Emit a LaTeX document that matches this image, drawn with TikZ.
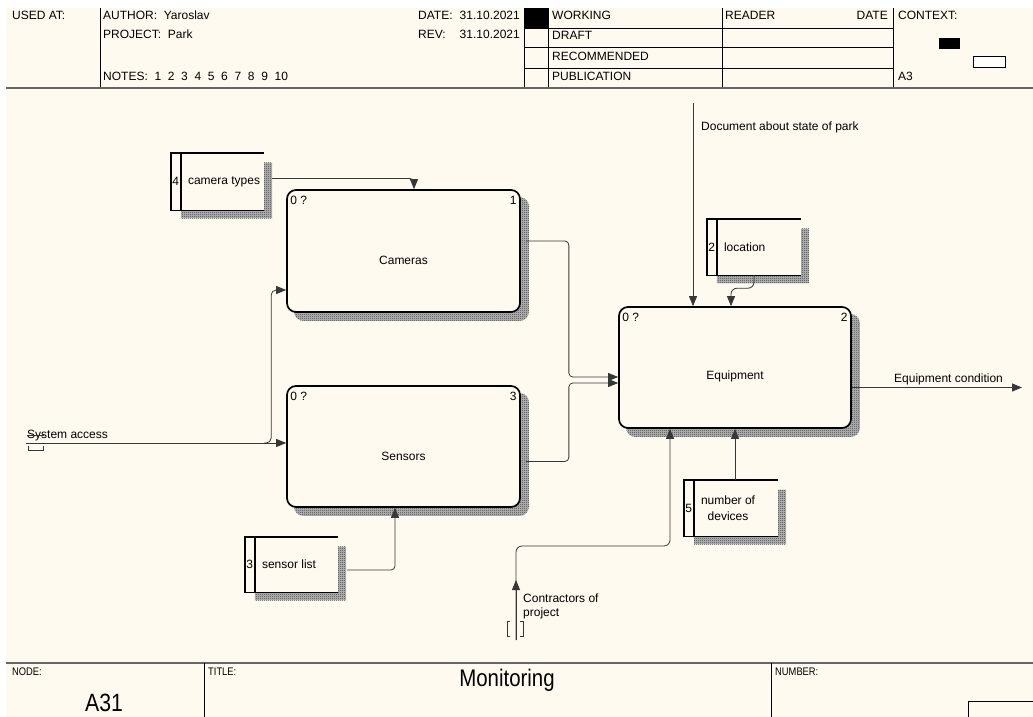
\documentclass[tikz,border=0pt]{standalone}
\usepackage{fontspec}
\setmainfont{Liberation Sans}
\newfontfamily\narrowfont[FakeStretch=0.85]{Liberation Sans}
\usetikzlibrary{arrows.meta,patterns,backgrounds}
\definecolor{paper}{RGB}{255,250,239}
\definecolor{wire}{RGB}{55,55,55}
% fine pixel checkerboard used for the drop shadows
\pgfdeclarepatternformonly{fine checker}{\pgfpointorigin}{\pgfpoint{2pt}{2pt}}{\pgfpoint{2pt}{2pt}}{%
  \pgfpathrectangle{\pgfpointorigin}{\pgfpoint{1pt}{1pt}}%
  \pgfpathrectangle{\pgfpoint{1pt}{1pt}}{\pgfpoint{1pt}{1pt}}%
  \pgfusepath{fill}}

% data store: name, centre x, centre y, width, height, number, text
\newcommand\datastore[7]{%
  \node[minimum width=#4pt, minimum height=#5pt, fill=paper] (#1) at (#2,#3) {};
  \begin{scope}[on background layer]
    \fill[shade] ([shift={(10,10)}]#1.north west) rectangle ([shift={(8,8)}]#1.south east);
  \end{scope}
  \draw[box] (#1.north east) -- (#1.north west) -- (#1.south west) -- (#1.south east);
  \draw[box] ([xshift=10pt]#1.north west) -- ([xshift=10pt]#1.south west);
  \node (#1-n) at ([xshift=5pt]#1.west) {#6};
  \node[anchor=west, align=center] (#1-t) at ([xshift=17pt]#1.west) {#7};
}
% activity box with its drop shadow and corner labels
\newcommand\activity[6]{% name, centre x, centre y, width, height, number
  \node[func, minimum width=#4pt, minimum height=#5pt] (#1) at (#2,#3) {};
  \begin{scope}[on background layer]
    \fill[shade, rounded corners=9pt] ([shift={(8,8)}]#1.north west) rectangle ([shift={(8,8)}]#1.south east);
  \end{scope}
  \node[txt] (#1-q) at ([shift={(4,15)}]#1.north west) {0 ?};
  \node[txtr] (#1-n) at ([shift={(-4,15)}]#1.north east) {#6};
}

\begin{document}
\begin{tikzpicture}[x=1pt, y=-1pt,
  every node/.style={font=\fontsize{12}{16}\selectfont, inner sep=0pt},
  txt/.style={anchor=base west},
  txtr/.style={anchor=base east},
  func/.style={draw=black, line width=1.7pt, rounded corners=9pt, fill=paper},
  shade/.style={preaction={fill=black!28}, pattern=fine checker, pattern color=black!75},
  box/.style={draw=black, line width=1.4pt},
  flow/.style={draw=wire, line width=0.8pt, rounded corners=4pt, -{Triangle[length=10pt,width=8pt]}},
  wireline/.style={draw=wire, line width=0.8pt},
  rule/.style={draw=black!60, line width=1.5pt},
  grid/.style={draw=black, line width=0.8pt},
  small/.style={font=\narrowfont\fontsize{11}{13}\selectfont}
]
\useasboundingbox (0,0) rectangle (1033,717);
\begin{scope}[on background layer]
  \fill[white] (0,0) rectangle (1033,717);
  \fill[paper] (6,8) rectangle (1033,717);
\end{scope}

% ---------- header ----------
\draw[grid] (100,8) -- (100,88);
\fill[black] (524,8) rectangle (548,28);
\draw[grid] (524,8) -- (524,88);
\draw[grid] (548,8) -- (548,88);
\draw[grid] (722,8) -- (722,88);
\draw[grid] (893,8) -- (893,88);
\draw[grid] (524,28) -- (893,28);
\draw[grid] (524,47.5) -- (893,47.5);
\draw[grid] (524,68) -- (893,68);
\draw[rule] (6,88) -- (1033,88);

\node[txt] (usedat) at (12,20) {USED AT:};
\node[txt] (author) at (103,20) {AUTHOR:\ \ Yaroslav};
\node[txt] (project) at (103,39) {PROJECT:\ \ Park};
\node[txt] (notes) at (103,81) {NOTES:\ \ 1\ \ 2\ \ 3\ \ 4\ \ 5\ \ 6\ \ 7\ \ 8\ \ 9\ \ 10};
\node[txt] (datek) at (418,20) {DATE:};
\node[txtr] (datev) at (520,20) {31.10.2021};
\node[txt] (revk) at (418,39) {REV:};
\node[txtr] (revv) at (520,39) {31.10.2021};
\node[txt] (working) at (552,20) {WORKING};
\node[txt] (draft) at (552,40) {DRAFT};
\node[txt] (recom) at (552,61) {RECOMMENDED};
\node[txt] (public) at (552,81) {PUBLICATION};
\node[txt] (reader) at (725,20) {READER};
\node[txtr] (rdate) at (888,20) {DATE};
\node[txt] (context) at (898,20) {CONTEXT:};
\node[txt] (ctxa3) at (898,81) {A3};
\fill[black] (939,38) rectangle (960,49);
\draw[grid, fill=white] (973,56) rectangle (1005,67);

% ---------- footer ----------
\draw[rule] (6,663) -- (1033,663);
\draw[grid] (204,663) -- (204,717);
\draw[grid] (771,663) -- (771,717);
\draw[grid] (968,717) -- (968,701) -- (1033,701);
\node[txt, small] (nodek) at (12,675) {NODE:};
\node[txt, small] (titlek) at (208,675) {TITLE:};
\node[txt, small] (numberk) at (775,675) {NUMBER:};
\node[anchor=base, font=\narrowfont\fontsize{24}{26}\selectfont] (title) at (507,686) {Monitoring};
\node[anchor=base, font=\narrowfont\fontsize{25}{27}\selectfont] (nodeid) at (104,711) {A31};

% ---------- activities ----------
\activity{cam}{403.5}{251}{233}{122}{1}
\node (cam-l) at ([yshift=-9pt]cam) {Cameras};
\activity{sen}{403.5}{446.5}{233}{121}{3}
\node (sen-l) at ([yshift=-10pt]sen) {Sensors};
\activity{eqp}{735}{367.5}{232}{121}{2}
\node (eqp-l) at ([yshift=-9pt]eqp) {Equipment};

% ---------- data stores ----------
\datastore{ct}{217.5}{181.5}{93}{57}{4}{camera types}
\datastore{loc}{754}{247}{94}{56}{2}{location}
\datastore{nod}{731}{508}{94}{56}{5}{number of\\devices}
\datastore{sl}{291.5}{564.5}{93}{55}{3}{sensor list}

% ---------- connectors ----------
\draw[flow] ([shift={(8,-3)}]ct.east) -| ([xshift=10.5pt]cam.north);
\draw[flow, rounded corners=6pt] (loc.south) -- ++(0,13) -| ([xshift=-4pt]eqp.north);
\coordinate (docsrc) at (693,103);
\draw[flow] (docsrc) -- (docsrc |- eqp.north);
\node[txt] (doclbl) at (701,130) {Document about state of park};

\draw[flow] (eqp.south |- nod.north) -- (eqp.south);
\draw[flow] ([shift={(9,5.5)}]sl.east) -| ([xshift=-8.5pt]sen.south);

\draw[flow] ([shift={(5,-10)}]cam.east) -- ++(43,0) |- ([shift={(0,9.5)}]eqp.west);
\draw[flow] ([shift={(5,15)}]sen.east) -- ++(43,0) |- ([shift={(0,15.5)}]eqp.west);

\coordinate (outend) at (1022,387.5);
\draw[flow] ([shift={(0,20)}]eqp.east) -- (outend);
\node[txt] (outlbl) at (894,382) {Equipment condition};

\coordinate (sa) at (26,443);
\coordinate (sab) at (264,443);
\draw[flow] (sa) -- (sa -| sen.west);
\draw[flow, rounded corners=5pt] (sab) -| ([shift={(-15,39)}]cam.west) -- ([shift={(0,39)}]cam.west);
\node[txt] (salbl) at (27,438) {System access};
\draw[wireline] (27,435.5) -- (44,435.5);
\draw[wireline] (28,446) -- (28,450) -- (43,450) -- (43,446);

\coordinate (csrc) at (516,640);
\draw[flow, rounded corners=6pt] (csrc) -- ++(0,-94) -| ([xshift=-65pt]eqp.south);
\draw[flow] (csrc) -- ++(0,-60);
\node[txt] (conlbl1) at (523,602) {Contractors of};
\node[txt] (conlbl2) at (523,616) {project};
\draw[wireline] (510,621) -- (507,621) -- (507,636) -- (510,636);
\draw[wireline] (520,621) -- (523,621) -- (523,636) -- (520,636);
\end{tikzpicture}
\end{document}
